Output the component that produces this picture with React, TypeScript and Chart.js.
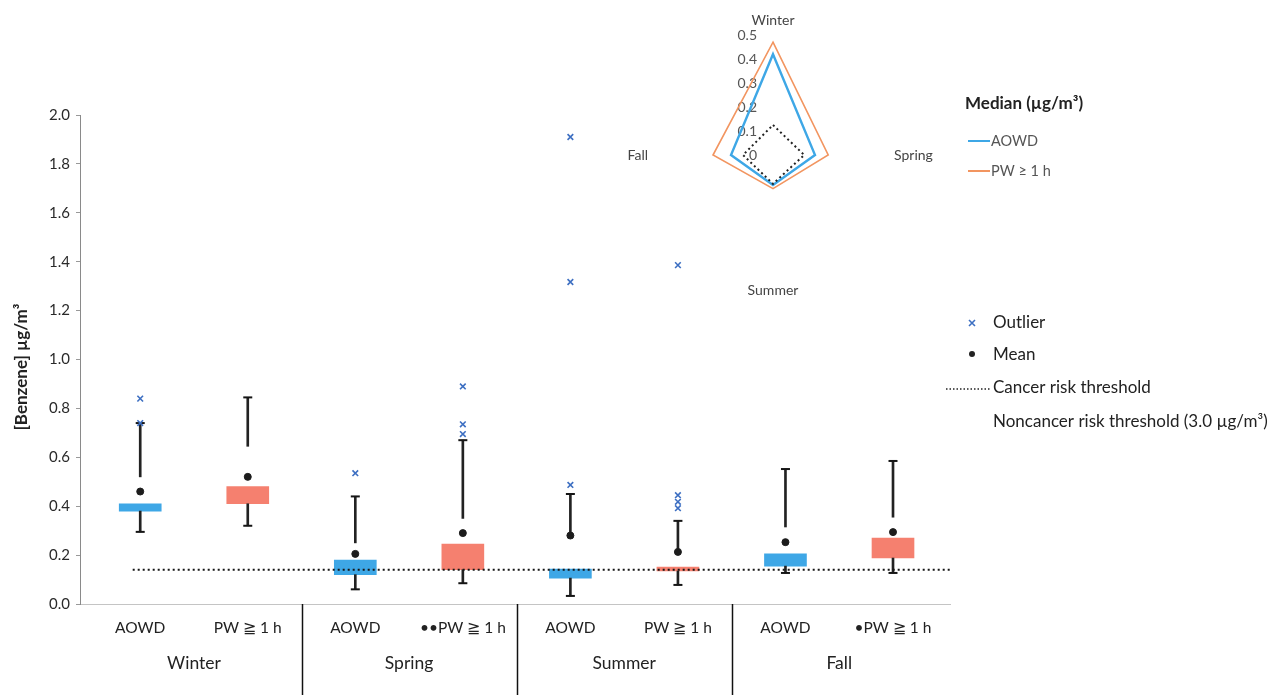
import React, { useEffect, useRef } from 'react';
import { Chart, registerables } from 'chart.js';

Chart.register(...registerables);

// ---------- data ----------
const categoryLabels = ['AOWD', 'PW ≧ 1 h', 'AOWD', '••PW ≧ 1 h', 'AOWD', 'PW ≧ 1 h', 'AOWD', '•PW ≧ 1 h'];
const seasons = ['Winter', 'Spring', 'Summer', 'Fall'];
const q1 = [0.38, 0.41, 0.12, 0.14, 0.106, 0.135, 0.155, 0.188];
const q3 = [0.41, 0.48, 0.18, 0.245, 0.143, 0.151, 0.205, 0.27];
const whiskerLow = [0.295, 0.32, 0.06, 0.085, 0.033, 0.078, 0.127, 0.127];
const whiskerHigh = [0.74, 0.845, 0.44, 0.67, 0.45, 0.34, 0.552, 0.585];
const upperStemFrom = [0.52, 0.645, 0.25, 0.35, 0.28, 0.22, 0.315, 0.355];
const means = [0.46, 0.52, 0.205, 0.29, 0.28, 0.213, 0.253, 0.294];
const outliers: number[][] = [[0.84, 0.74], [], [0.535], [0.89, 0.735, 0.695], [1.91, 1.317, 0.487], [1.386, 0.445, 0.418, 0.392], [], []];
const cancerThreshold = 0.14;
const yMin = 0;
const yMax = 2;
const yStep = 0.2;

const radarLabels = ['Winter', 'Spring', 'Summer', 'Fall'];
const radarAOWD = [0.42, 0.175, 0.125, 0.175];
const radarPW = [0.47, 0.23, 0.14, 0.25];
const radarThreshold = [0.125, 0.13, 0.12, 0.125];
const radarTicks = [0, 0.1, 0.2, 0.3, 0.4, 0.5];

const BLUE = '#3ea7e6';
const SALMON = '#f5806f';
const ORANGE = '#f29560';
const XBLUE = '#3d6fc2';
const FONT = 'Lato, "Open Sans", sans-serif';

const idx = categoryLabels.map((_, i) => i);

const mainOverlay = {
  id: 'mainOverlay',
  afterDraw(chart: any) {
    const { ctx } = chart;
    const xs = chart.scales.x;
    const bottom = chart.chartArea.bottom;
    ctx.save();
    // category labels
    ctx.fillStyle = '#222';
    ctx.textAlign = 'center';
    ctx.textBaseline = 'middle';
    ctx.font = `15.5px ${FONT}`;
    idx.forEach((i) => ctx.fillText(categoryLabels[i], xs.getPixelForValue(i), 628));
    ctx.font = `17.5px ${FONT}`;
    seasons.forEach((s, g) => ctx.fillText(s, xs.getPixelForValue(2 * g + 0.5), 663));
    // separators
    ctx.strokeStyle = '#111';
    ctx.lineWidth = 1.5;
    for (let g = 0; g < seasons.length - 1; g++) {
      const px = Math.round(xs.getPixelForValue(2 * g + 1.5)) + 0.5;
      ctx.beginPath();
      ctx.moveTo(px, bottom);
      ctx.lineTo(px, 695);
      ctx.stroke();
    }
    // y title
    ctx.save();
    ctx.translate(22, 367);
    ctx.rotate(-Math.PI / 2);
    ctx.font = `bold 17px ${FONT}`;
    ctx.fillStyle = '#222';
    ctx.fillText('[Benzene] µg/m³', 0, 0);
    ctx.restore();

    // legends
    ctx.textAlign = 'left';
    ctx.font = `bold 17px ${FONT}`;
    ctx.fillStyle = '#222';
    ctx.fillText('Median (µg/m³)', 965, 104);

    ctx.lineWidth = 2;
    ctx.strokeStyle = BLUE;
    ctx.beginPath(); ctx.moveTo(968, 141); ctx.lineTo(990, 141); ctx.stroke();
    ctx.strokeStyle = ORANGE;
    ctx.beginPath(); ctx.moveTo(968, 171); ctx.lineTo(990, 171); ctx.stroke();
    ctx.font = `14.5px ${FONT}`;
    ctx.fillStyle = '#555';
    ctx.fillText('AOWD', 991, 141);
    ctx.fillText('PW ≥ 1 h', 991, 171);

    // outlier marker
    ctx.strokeStyle = XBLUE;
    ctx.lineWidth = 1.6;
    ctx.beginPath();
    ctx.moveTo(969, 320); ctx.lineTo(975, 326);
    ctx.moveTo(975, 320); ctx.lineTo(969, 326);
    ctx.stroke();
    // mean marker
    ctx.fillStyle = '#222';
    ctx.beginPath(); ctx.arc(972, 354, 3, 0, Math.PI * 2); ctx.fill();
    // dotted line
    ctx.strokeStyle = '#222';
    ctx.lineWidth = 1.5;
    ctx.setLineDash([1.5, 2]);
    ctx.beginPath(); ctx.moveTo(946, 389); ctx.lineTo(991, 389); ctx.stroke();
    ctx.setLineDash([]);

    ctx.font = `17px ${FONT}`;
    ctx.fillStyle = '#222';
    ctx.fillText('Outlier', 993, 323);
    ctx.fillText('Mean', 993, 355);
    ctx.fillText('Cancer risk threshold', 993, 388);
    ctx.fillText('Noncancer risk threshold (3.0 µg/m³)', 993, 422);
    ctx.restore();
  },
};

const radarOverlay = {
  id: 'radarOverlay',
  beforeDatasetsDraw(chart: any) {
    const { ctx } = chart;
    const r = chart.scales.r;
    ctx.save();
    ctx.font = `14px ${FONT}`;
    ctx.fillStyle = '#555';
    ctx.textAlign = 'right';
    ctx.textBaseline = 'middle';
    radarTicks.forEach((t) => {
      const y = r.yCenter - r.getDistanceFromCenterForValue(t);
      ctx.fillText(t === 0 ? '0' : t.toFixed(1), r.xCenter - 16, y);
    });
    // point labels
    ctx.fillStyle = '#444';
    radarLabels.forEach((lab, i) => {
      const vertical = i % 2 === 0;
      const p = r.getPointPosition(i, vertical ? r.drawingArea + 8 : r.drawingArea + 1);
      if (i === 0) { ctx.textAlign = 'center'; ctx.textBaseline = 'bottom'; }
      else if (i === 1) { ctx.textAlign = 'left'; ctx.textBaseline = 'middle'; }
      else if (i === 2) { ctx.textAlign = 'center'; ctx.textBaseline = 'top'; }
      else { ctx.textAlign = 'right'; ctx.textBaseline = 'middle'; }
      ctx.fillText(lab, i === 3 ? p.x - 4 : p.x, p.y);
    });
    ctx.restore();
  },
};

export default function App() {
  const mainRef = useRef<HTMLCanvasElement>(null);
  const radarRef = useRef<HTMLCanvasElement>(null);

  useEffect(() => {
    const aowd = idx.filter((i) => i % 2 === 0);
    const pw = idx.filter((i) => i % 2 === 1);
    const main = new Chart(mainRef.current as HTMLCanvasElement, {
      type: 'bar',
      data: {
        datasets: [
          {
            type: 'line',
            label: 'Cancer risk threshold',
            data: [{ x: -0.07, y: cancerThreshold }, { x: 7.53, y: cancerThreshold }],
            borderColor: '#151515',
            borderWidth: 2,
            borderDash: [2, 3],
            pointRadius: 0,
            order: 0,
          },
          {
            type: 'scatter',
            label: 'Mean',
            data: idx.map((i) => ({ x: i, y: means[i] })),
            pointStyle: 'circle',
            pointRadius: 3.5,
            backgroundColor: '#1c1c1c',
            borderColor: '#1c1c1c',
            order: 1,
          },
          {
            type: 'scatter',
            label: 'Outlier',
            data: outliers.flatMap((arr, i) => arr.map((v) => ({ x: i, y: v }))),
            pointStyle: 'crossRot',
            pointRadius: 4,
            borderColor: XBLUE,
            borderWidth: 1.6,
            order: 1,
          },
          {
            type: 'scatter',
            label: 'Caps',
            data: idx.flatMap((i) => [{ x: i, y: whiskerLow[i] }, { x: i, y: whiskerHigh[i] }]),
            pointStyle: 'line',
            pointRadius: 4.5,
            borderColor: '#151515',
            borderWidth: 2,
            order: 2,
          },
          {
            type: 'bar',
            label: 'Upper whisker',
            data: idx.map((i) => ({ x: i, y: [upperStemFrom[i], whiskerHigh[i]] })),
            backgroundColor: '#222',
            barThickness: 2,
            grouped: false,
            order: 3,
          },
          {
            type: 'bar',
            label: 'Lower whisker',
            data: idx.map((i) => ({ x: i, y: [whiskerLow[i], q1[i]] })),
            backgroundColor: '#222',
            barThickness: 2,
            grouped: false,
            order: 3,
          },
          {
            type: 'bar',
            label: 'AOWD',
            data: aowd.map((i) => ({ x: i, y: [q1[i], q3[i]] })),
            backgroundColor: BLUE,
            barThickness: 42,
            grouped: false,
            order: 4,
          },
          {
            type: 'bar',
            label: 'PW ≧ 1 h',
            data: pw.map((i) => ({ x: i, y: [q1[i], q3[i]] })),
            backgroundColor: SALMON,
            barThickness: 42,
            grouped: false,
            order: 4,
          },
        ] as any,
      },
      options: {
        responsive: false,
        animation: false,
        layout: { padding: { left: 0, top: 115, right: 323, bottom: 0 } },
        plugins: { legend: { display: false }, tooltip: { enabled: false } },
        scales: {
          x: {
            type: 'linear',
            min: -0.56,
            max: 7.53,
            offset: false,
            ticks: { display: false },
            grid: { display: false },
            border: { display: true, color: '#c4c4c4', dash: [3, 3], width: 1 },
            afterFit: (s: any) => { s.height = 91; },
          },
          y: {
            type: 'linear',
            min: yMin,
            max: yMax,
            ticks: {
              stepSize: yStep,
              padding: 6,
              color: '#2a2a2a',
              font: { family: FONT, size: 15 },
              callback: (v: any) => Number(v).toFixed(1),
            },
            grid: { display: true, drawOnChartArea: false, drawTicks: true, tickLength: 4, color: '#999' },
            border: { display: true, color: '#8a8a8a', width: 1 },
            afterFit: (s: any) => { s.width = 80; },
          },
        },
      } as any,
      plugins: [mainOverlay],
    });

    const radar = new Chart(radarRef.current as HTMLCanvasElement, {
      type: 'radar',
      data: {
        labels: radarLabels,
        datasets: [
          { label: 'Cancer risk threshold', data: radarThreshold, borderColor: '#222', borderWidth: 2, borderDash: [2, 3], fill: false, pointRadius: 0 },
          { label: 'AOWD', data: radarAOWD, borderColor: BLUE, borderWidth: 2.4, fill: false, pointRadius: 0 },
          { label: 'PW ≥ 1 h', data: radarPW, borderColor: ORANGE, borderWidth: 1.6, fill: false, pointRadius: 0 },
        ],
      },
      options: {
        responsive: false,
        animation: false,
        layout: { padding: { left: 60, right: 60, top: 30, bottom: 30 } },
        plugins: { legend: { display: false }, tooltip: { enabled: false } },
        elements: { line: { tension: 0 } },
        scales: {
          r: {
            min: 0,
            max: 0.5,
            ticks: { display: false, stepSize: 0.1 },
            grid: { display: false },
            angleLines: { display: false },
            pointLabels: { display: false },
          },
        },
      } as any,
      plugins: [radarOverlay],
    });

    return () => {
      main.destroy();
      radar.destroy();
    };
  }, []);

  return (
    <div style={{ position: 'absolute', left: 0, top: 0, width: 1273, height: 695, background: '#fff', overflow: 'hidden' }}>
      <canvas ref={mainRef} width={1273} height={695} style={{ position: 'absolute', left: 0, top: 0 }} />
      <canvas ref={radarRef} width={360} height={300} style={{ position: 'absolute', left: 593, top: 5 }} />
    </div>
  );
}
